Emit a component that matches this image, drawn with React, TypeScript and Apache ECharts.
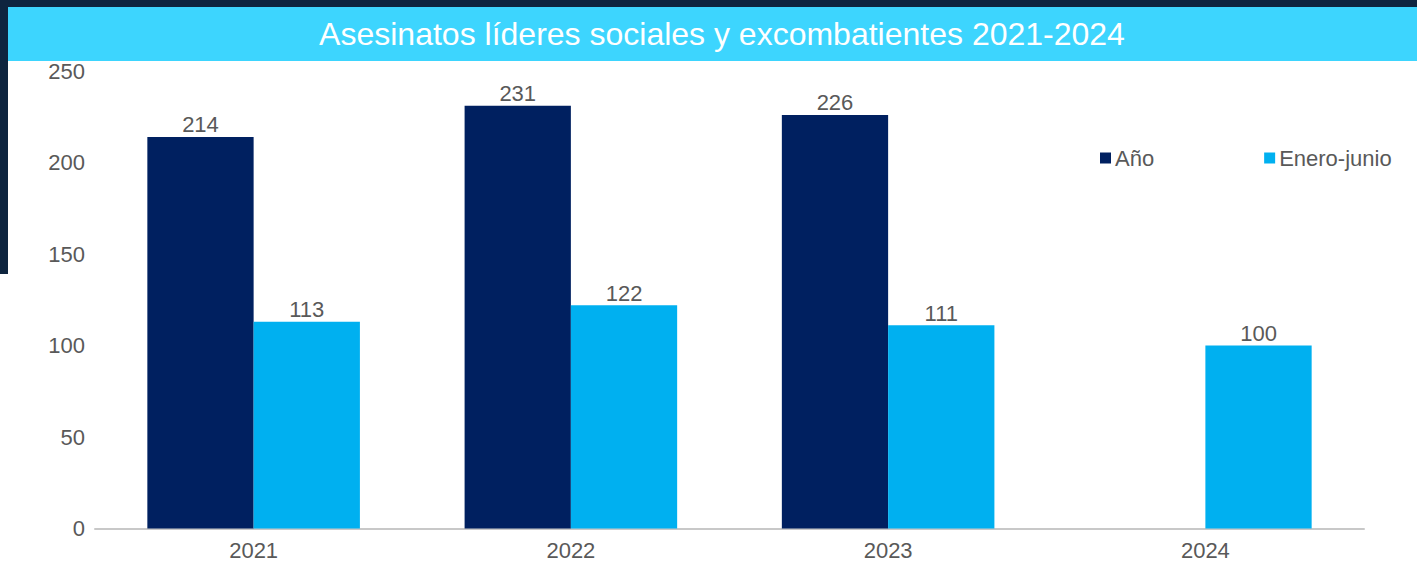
import React, { useEffect, useRef } from "react";
import * as echarts from "echarts";

const categories = ["2021", "2022", "2023", "2024"];
const anio: (number | null)[] = [214, 231, 226, null];
const eneroJunio: number[] = [113, 122, 111, 100];
const titleText = "Asesinatos líderes sociales y excombatientes 2021-2024";

const FONT = "'Liberation Sans', Arial, sans-serif";
const TXT = "#595959";

export default function App() {
  const ref = useRef<HTMLDivElement>(null);
  useEffect(() => {
    if (!ref.current) return;
    const chart = echarts.init(ref.current, undefined, { renderer: "svg" });
    chart.setOption({
      animation: false,
      backgroundColor: "#ffffff",
      textStyle: { fontFamily: FONT },
      graphic: [
        { type: "rect", left: 0, top: 0, shape: { x: 0, y: 0, width: 1417, height: 7 }, style: { fill: "#0e253f" }, z: 0 },
        { type: "rect", left: 0, top: 0, shape: { x: 0, y: 0, width: 8, height: 274 }, style: { fill: "#0e253f" }, z: 0 },
        { type: "rect", left: 8, top: 7, shape: { x: 0, y: 0, width: 1409, height: 54 }, style: { fill: "#3dd5fe" }, z: 0 },
        {
          type: "text",
          x: 722,
          y: 34,
          style: {
            text: titleText,
            fill: "#ffffff",
            fontSize: 32,
            fontFamily: FONT,
            align: "center",
            verticalAlign: "middle",
          },
          z: 10,
        },
      ],
      legend: {
        left: 1100,
        top: 147,
        padding: 0,
        icon: "rect",
        itemWidth: 11,
        itemHeight: 11,
        itemGap: 110,
        textStyle: { color: TXT, fontSize: 22, fontFamily: FONT, padding: [0, 0, 0, -1] },
        data: ["Año", "Enero-junio"],
      },
      grid: { left: 95, right: 53, top: 71, bottom: 33.5, containLabel: false },
      xAxis: {
        type: "category",
        data: categories,
        axisLine: { show: true, lineStyle: { color: "#c8c8c8", width: 2 } },
        axisTick: { show: false },
        axisLabel: { color: TXT, fontSize: 22, fontFamily: FONT, margin: 11 },
      },
      yAxis: {
        type: "value",
        min: 0,
        max: 250,
        interval: 50,
        axisLine: { show: false },
        axisTick: { show: false },
        splitLine: { show: false },
        axisLabel: { color: TXT, fontSize: 22, fontFamily: FONT, margin: 10 },
      },
      series: [
        {
          name: "Año",
          type: "bar",
          data: anio,
          barGap: "0%",
          barCategoryGap: "33%",
          itemStyle: { color: "#002060" },
          label: { show: true, position: "top", distance: 1, color: TXT, fontSize: 22, fontFamily: FONT },
        },
        {
          name: "Enero-junio",
          type: "bar",
          data: eneroJunio,
          barGap: "0%",
          barCategoryGap: "33%",
          itemStyle: { color: "#00b0f0" },
          label: { show: true, position: "top", distance: 1, color: TXT, fontSize: 22, fontFamily: FONT },
        },
      ],
    });
    return () => chart.dispose();
  }, []);
  return (
    <div
      ref={ref}
      style={{ position: "fixed", left: 0, top: 0, width: 1417, height: 562 }}
    />
  );
}
